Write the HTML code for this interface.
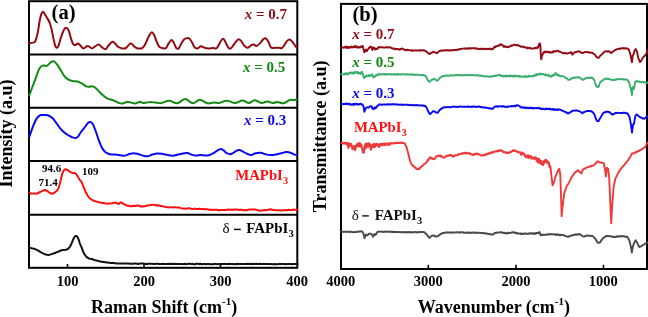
<!DOCTYPE html>
<html><head><meta charset="utf-8"><style>
html,body{margin:0;padding:0;background:#fff;width:648px;height:317px;overflow:hidden;font-family:"Liberation Serif", serif;}
svg{display:block;will-change:transform}
</style></head><body>
<svg width="648" height="317" viewBox="0 0 648 317"><g font-family='"Liberation Serif", serif'><g fill="none" stroke="#000" stroke-width="2"><rect x="29" y="1.2" width="268.3" height="266.6"/><line x1="29" y1="54.4" x2="297.3" y2="54.4"/><line x1="29" y1="107.7" x2="297.3" y2="107.7"/><line x1="29" y1="161" x2="297.3" y2="161"/><line x1="29" y1="214.8" x2="297.3" y2="214.8"/><rect x="341" y="3.9" width="306" height="265.1"/></g><g stroke="#000" stroke-width="1.6"><line x1="67.5" y1="264" x2="67.5" y2="267"/><line x1="144" y1="264" x2="144" y2="267"/><line x1="220.5" y1="264" x2="220.5" y2="267"/><line x1="428.3" y1="264.8" x2="428.3" y2="268"/><line x1="516" y1="264.8" x2="516" y2="268"/><line x1="603.5" y1="264.8" x2="603.5" y2="268"/></g><g fill="none" stroke-width="2.0" stroke-linejoin="round" stroke-linecap="round"><path d="M29.3,42.9 C29.3,42.9 28.9,42.9 29.5,42.9 C30.1,42.9 32.1,42.9 33.1,42.6 C34.1,42.3 34.6,42.7 35.4,41.0 C36.2,39.3 37.1,35.7 37.8,32.4 C38.5,29.1 39.0,24.3 39.6,21.3 C40.2,18.3 40.6,15.9 41.2,14.3 C41.8,12.7 42.5,11.7 43.1,11.7 C43.7,11.7 44.2,13.3 45.0,14.5 C45.8,15.7 46.8,17.3 47.6,18.7 C48.4,20.1 49.1,21.0 49.8,23.0 C50.5,25.0 51.3,28.0 51.9,30.7 C52.5,33.4 53.0,36.7 53.6,39.2 C54.2,41.8 54.7,44.6 55.3,46.0 C55.9,47.4 56.4,47.9 57.0,47.7 C57.6,47.6 58.1,46.7 58.7,45.1 C59.3,43.5 60.0,40.5 60.7,38.3 C61.4,36.1 62.2,33.7 62.9,32.0 C63.6,30.3 64.4,28.9 65.1,28.3 C65.8,27.7 66.2,27.6 66.8,28.1 C67.4,28.6 68.2,29.4 68.9,31.1 C69.6,32.8 70.2,36.1 70.9,38.3 C71.6,40.4 72.3,42.9 73.1,44.0 C73.8,45.1 74.6,45.2 75.4,45.1 C76.2,45.0 76.9,43.4 77.7,43.4 C78.5,43.4 79.0,44.3 80.0,45.1 C81.0,45.9 82.1,48.2 83.4,48.4 C84.7,48.5 86.3,46.0 87.7,46.0 C89.1,46.0 90.8,48.3 91.9,48.4 C93.0,48.5 93.4,47.4 94.5,46.8 C95.6,46.2 97.4,44.5 98.7,44.6 C100.0,44.7 100.9,46.6 102.1,47.4 C103.2,48.2 104.6,49.4 105.6,49.2 C106.6,49.0 107.0,47.2 108.1,46.0 C109.2,44.8 111.3,42.1 112.4,41.7 C113.5,41.3 113.9,42.5 114.9,43.4 C115.9,44.2 117.0,46.0 118.3,46.8 C119.6,47.6 121.3,48.2 122.6,48.4 C123.9,48.6 125.0,48.5 126.0,48.0 C127.0,47.5 127.8,45.9 128.6,45.1 C129.4,44.3 130.1,43.1 131.1,43.4 C132.1,43.7 133.4,46.0 134.6,46.8 C135.8,47.6 136.7,48.2 138.0,48.4 C139.3,48.6 141.1,48.8 142.2,48.2 C143.3,47.7 143.8,46.9 144.8,45.1 C145.8,43.3 147.1,39.6 148.2,37.5 C149.3,35.4 150.6,32.8 151.6,32.4 C152.6,32.0 153.2,33.3 154.1,34.9 C154.9,36.5 155.8,39.7 156.7,41.7 C157.6,43.7 158.3,45.7 159.3,46.8 C160.3,47.9 161.6,48.0 162.7,48.2 C163.8,48.4 165.1,48.8 166.1,48.0 C167.1,47.2 167.7,44.7 168.6,43.4 C169.5,42.1 170.7,40.1 171.5,40.0 C172.3,39.9 172.9,41.3 173.7,42.6 C174.5,43.9 175.5,47.1 176.3,48.0 C177.2,48.9 178.0,49.0 178.8,48.2 C179.7,47.4 180.5,44.9 181.4,43.4 C182.3,41.9 183.1,40.4 184.0,39.5 C184.9,38.6 185.8,38.5 186.6,38.3 C187.4,38.1 188.2,37.7 189.1,38.3 C189.9,38.9 190.8,40.3 191.7,41.7 C192.5,43.1 193.2,45.7 194.2,46.8 C195.2,47.9 196.5,48.5 197.6,48.4 C198.7,48.3 199.9,46.4 201.0,46.3 C202.1,46.2 203.1,47.4 204.4,47.7 C205.7,48.1 207.3,48.4 208.7,48.4 C210.1,48.4 211.7,48.0 213.0,48.0 C214.3,48.0 215.4,49.0 216.4,48.4 C217.4,47.8 218.1,46.0 218.9,44.6 C219.8,43.2 220.7,41.0 221.5,40.0 C222.3,39.0 222.8,38.4 223.5,38.8 C224.2,39.2 224.9,41.1 225.7,42.6 C226.5,44.1 227.5,46.7 228.3,47.7 C229.2,48.7 230.0,48.8 230.8,48.4 C231.7,48.0 232.5,46.2 233.4,45.1 C234.3,44.0 235.1,42.7 236.0,41.7 C236.9,40.7 237.8,39.3 238.6,39.2 C239.4,39.1 240.1,39.8 241.1,40.9 C242.1,42.0 243.4,44.9 244.5,46.0 C245.6,47.1 246.8,47.9 247.9,47.7 C249.0,47.6 250.3,45.6 251.3,45.1 C252.3,44.6 253.1,44.5 253.9,44.6 C254.8,44.8 255.4,46.2 256.4,46.0 C257.4,45.8 258.8,44.5 259.9,43.4 C261.0,42.3 262.3,40.1 263.3,39.2 C264.3,38.4 265.0,37.9 265.8,38.3 C266.6,38.7 267.5,40.2 268.4,41.7 C269.2,43.2 270.0,46.4 270.9,47.4 C271.8,48.4 272.2,48.0 273.5,48.0 C274.8,48.0 277.2,47.7 278.6,47.7 C280.0,47.7 281.0,48.5 282.0,48.0 C283.0,47.5 283.8,45.8 284.6,44.6 C285.5,43.4 286.2,41.8 287.1,40.9 C288.0,40.0 288.9,39.4 289.7,39.5 C290.5,39.6 291.3,40.8 292.2,41.7 C293.1,42.6 294.1,44.2 294.8,45.1 C295.5,46.0 296.2,46.9 296.5,47.4 C296.8,47.9 296.8,47.7 296.8,47.8" stroke="#920c14"/><path d="M29.3,94.4 C29.3,94.5 29.1,95.8 29.5,95.0 C29.9,94.2 30.6,91.6 31.4,89.6 C32.1,87.5 33.1,85.0 34.0,82.7 C34.9,80.4 35.6,78.2 36.5,75.9 C37.4,73.6 38.2,70.8 39.1,69.1 C40.0,67.4 40.8,66.6 41.6,66.0 C42.5,65.4 43.4,65.5 44.2,65.5 C45.1,65.5 45.9,66.2 46.7,65.9 C47.6,65.6 48.4,64.4 49.3,63.7 C50.2,63.0 51.0,61.9 51.9,61.5 C52.8,61.1 53.5,61.0 54.4,61.5 C55.2,62.0 56.1,63.2 57.0,64.3 C57.9,65.4 58.6,66.7 59.5,68.1 C60.4,69.5 61.2,71.1 62.1,72.5 C63.0,73.9 63.7,75.4 64.6,76.4 C65.4,77.5 66.3,78.2 67.2,78.8 C68.1,79.4 68.9,79.8 69.7,80.2 C70.5,80.6 71.5,80.8 72.3,81.0 C73.1,81.2 73.9,81.1 74.8,81.2 C75.7,81.3 76.5,81.3 77.4,81.5 C78.3,81.7 79.1,82.2 80.0,82.6 C80.9,83.0 81.6,83.2 82.6,83.8 C83.6,84.4 84.9,85.8 86.0,86.3 C87.1,86.8 88.3,86.7 89.4,86.7 C90.5,86.7 91.8,86.2 92.8,86.4 C93.8,86.6 94.3,86.9 95.3,87.7 C96.3,88.5 97.6,90.0 98.7,91.1 C99.8,92.2 100.9,93.5 102.1,94.5 C103.2,95.5 104.4,96.6 105.6,97.4 C106.8,98.2 107.9,98.7 109.0,99.1 C110.1,99.5 111.3,99.6 112.4,100.0 C113.5,100.4 114.7,100.9 115.8,101.4 C116.9,101.9 118.1,102.8 119.2,103.1 C120.3,103.4 121.6,103.5 122.6,103.4 C123.6,103.3 124.2,102.9 125.1,102.6 C125.9,102.3 126.7,101.7 127.7,101.7 C128.7,101.7 129.8,102.3 131.1,102.6 C132.4,102.9 134.0,103.6 135.4,103.4 C136.8,103.2 138.4,101.8 139.7,101.7 C141.0,101.7 142.0,102.9 143.1,103.1 C144.2,103.2 145.2,102.8 146.5,102.6 C147.8,102.4 149.3,102.0 150.7,102.0 C152.1,102.0 153.6,102.4 155.0,102.6 C156.4,102.8 158.1,103.0 159.3,103.1 C160.5,103.1 160.3,103.3 162.0,102.9 C163.7,102.5 167.1,100.7 169.6,100.8 C172.1,100.9 174.5,103.6 177.1,103.3 C179.7,103.0 182.6,99.0 185.2,99.0 C187.8,99.0 190.4,103.2 192.8,103.3 C195.2,103.4 197.4,99.8 199.8,99.8 C202.2,99.8 205.1,102.8 207.4,103.3 C209.7,103.8 211.8,102.6 213.8,102.5 C215.8,102.4 217.2,103.2 219.2,102.9 C221.2,102.6 223.9,101.0 225.7,100.8 C227.5,100.5 228.4,101.0 230.0,101.4 C231.6,101.8 233.1,103.1 235.2,103.0 C237.3,102.9 240.3,100.6 242.6,100.6 C244.9,100.6 246.9,103.0 248.9,103.0 C250.9,103.0 252.6,100.3 254.7,100.3 C256.8,100.3 259.4,102.8 261.5,103.0 C263.6,103.2 265.4,101.6 267.3,101.6 C269.2,101.6 271.4,103.0 273.0,103.0 C274.6,103.0 275.4,101.9 277.2,101.9 C278.9,102.0 281.4,103.6 283.5,103.3 C285.6,103.0 288.1,100.4 289.8,99.9 C291.6,99.4 292.9,100.2 294.0,100.1 C295.1,100.0 296.0,99.6 296.5,99.5 C297.0,99.4 296.8,99.4 296.8,99.4" stroke="#138a13"/><path d="M29.3,135.7 C29.3,135.8 29.1,137.1 29.5,136.3 C29.9,135.5 30.6,133.0 31.4,130.9 C32.1,128.8 33.1,126.0 34.0,124.0 C34.9,122.0 35.6,120.2 36.5,118.9 C37.4,117.6 38.2,116.6 39.1,115.9 C40.0,115.2 40.6,115.2 41.6,115.0 C42.6,114.8 43.9,114.9 45.0,115.0 C46.1,115.1 47.2,115.1 48.4,115.5 C49.5,115.9 50.9,116.8 51.9,117.6 C52.9,118.4 53.5,119.2 54.4,120.3 C55.2,121.4 56.1,122.8 57.0,124.0 C57.9,125.2 58.6,126.3 59.5,127.4 C60.4,128.5 61.1,129.5 62.1,130.5 C63.1,131.5 64.4,132.6 65.5,133.4 C66.6,134.2 67.8,134.9 68.9,135.6 C70.0,136.2 71.2,136.9 72.3,137.3 C73.4,137.7 74.7,138.2 75.7,138.0 C76.7,137.8 77.5,137.2 78.3,136.3 C79.1,135.4 79.7,133.9 80.8,132.3 C81.9,130.7 83.9,128.4 85.1,126.9 C86.2,125.4 86.8,124.0 87.7,123.2 C88.6,122.4 89.4,121.9 90.2,122.0 C91.0,122.1 92.0,122.7 92.8,124.0 C93.6,125.3 94.4,127.7 95.3,130.0 C96.2,132.3 97.1,135.3 97.9,137.7 C98.8,140.1 99.6,142.4 100.4,144.3 C101.2,146.2 102.1,148.1 103.0,149.4 C103.9,150.7 104.6,151.5 105.6,152.3 C106.6,153.1 107.9,153.6 109.0,154.0 C110.1,154.4 111.3,154.4 112.4,154.5 C113.5,154.6 114.7,154.4 115.8,154.5 C116.9,154.6 118.1,154.9 119.2,155.1 C120.3,155.3 121.5,155.6 122.6,155.7 C123.7,155.8 124.9,155.7 126.0,155.4 C127.1,155.1 128.4,154.3 129.4,154.0 C130.4,153.7 130.7,153.5 132.0,153.4 C133.3,153.3 135.4,153.4 137.1,153.7 C138.8,154.0 140.5,155.0 142.2,155.4 C143.9,155.8 145.6,156.5 147.3,156.3 C149.0,156.2 150.7,155.0 152.4,154.5 C154.1,154.0 155.9,153.5 157.6,153.4 C159.3,153.3 161.0,153.7 162.7,154.0 C164.4,154.3 166.1,154.8 167.8,155.1 C169.5,155.4 171.2,155.8 172.9,155.7 C174.6,155.6 176.3,154.9 178.0,154.5 C179.7,154.1 181.5,153.7 183.1,153.4 C184.7,153.2 186.0,152.8 187.4,153.0 C188.8,153.2 190.3,154.3 191.7,154.7 C193.1,155.1 194.3,155.5 195.9,155.6 C197.5,155.7 199.4,155.0 201.0,155.0 C202.6,155.0 203.9,155.6 205.3,155.6 C206.7,155.6 208.2,155.4 209.6,155.0 C211.0,154.6 212.2,153.9 213.5,153.2 C214.8,152.5 216.0,151.3 217.2,150.6 C218.4,149.9 219.6,149.0 220.6,148.9 C221.6,148.8 222.2,149.3 223.2,150.0 C224.2,150.7 225.3,152.3 226.5,153.0 C227.7,153.7 229.0,154.3 230.2,154.3 C231.3,154.3 232.4,153.4 233.4,152.8 C234.4,152.2 235.4,151.4 236.4,150.9 C237.4,150.4 238.5,150.2 239.3,150.1 C240.1,150.0 240.3,150.2 241.0,150.5 C241.7,150.8 242.6,151.4 243.6,152.0 C244.6,152.6 245.8,153.3 247.1,153.8 C248.4,154.3 249.9,155.1 251.3,155.0 C252.7,154.9 254.0,153.7 255.6,153.3 C257.2,152.9 259.0,152.5 260.7,152.7 C262.4,152.9 264.1,154.0 265.8,154.4 C267.5,154.8 269.2,155.0 270.9,155.0 C272.6,155.0 274.3,154.7 276.0,154.4 C277.7,154.1 279.4,153.7 281.1,153.3 C282.8,152.9 284.7,152.2 286.3,152.1 C287.9,152.0 289.2,152.3 290.5,152.7 C291.8,153.1 292.9,154.0 293.9,154.4 C294.9,154.8 296.0,154.9 296.5,155.0 C297.0,155.1 296.8,155.1 296.8,155.1" stroke="#0a0aee"/><path d="M29.3,192.6 L29.3,192.5 L29.5,192.5 L30.3,193.1 L31.4,193.7 L32.7,193.6 L34.0,193.4 L35.2,193.6 L36.5,193.7 L37.8,193.2 L39.1,192.5 L40.3,191.9 L41.6,191.3 L43.3,190.5 L45.0,190.0 L46.4,190.5 L47.6,191.3 L48.9,192.2 L50.1,193.0 L51.4,193.6 L52.7,193.7 L54.0,193.0 L55.3,192.0 L56.6,191.0 L57.8,189.6 L58.4,188.3 L59.0,186.7 L59.5,184.9 L59.8,183.6 L60.2,182.3 L60.5,180.8 L60.9,179.4 L61.2,178.0 L61.6,176.4 L62.0,174.8 L62.4,173.3 L62.9,172.1 L64.0,170.2 L65.1,169.2 L66.1,169.3 L67.2,169.9 L68.4,170.7 L69.7,171.6 L71.0,172.4 L72.3,172.9 L73.3,172.9 L74.3,172.9 L75.4,173.5 L76.6,174.6 L77.4,175.9 L78.3,177.4 L79.1,178.9 L80.0,180.1 L80.9,181.1 L81.7,182.3 L82.3,183.6 L82.8,185.0 L83.4,186.6 L84.0,188.0 L84.7,189.6 L85.3,191.1 L86.0,192.5 L86.8,194.1 L87.7,195.6 L88.5,196.8 L89.7,198.2 L91.1,199.3 L92.7,200.2 L94.5,201.0 L95.8,201.4 L97.2,201.8 L98.7,202.0 L99.9,202.6 L101.2,202.8 L102.6,203.0 L103.9,203.0 L105.6,203.6 L107.4,203.7 L109.0,203.6 L110.5,203.5 L112.0,203.2 L113.2,202.9 L114.6,202.8 L115.8,202.8 L117.0,203.1 L118.3,204.1 L119.6,203.2 L120.9,202.5 L122.1,202.7 L123.4,203.9 L124.6,204.4 L126.0,205.2 L127.7,205.7 L129.4,205.8 L130.6,206.2 L132.0,206.3 L133.5,205.8 L135.3,206.0 L137.1,205.5 L138.8,205.6 L140.5,206.5 L142.2,206.3 L143.9,206.6 L145.6,205.9 L147.3,205.6 L149.0,205.3 L150.7,205.1 L152.4,204.8 L153.7,204.7 L155.0,205.3 L156.3,205.0 L157.6,205.5 L159.3,205.3 L161.0,206.1 L162.7,206.3 L164.0,206.6 L165.2,206.9 L166.5,207.1 L167.8,207.4 L169.5,207.2 L171.2,207.3 L172.9,207.5 L174.6,207.1 L176.4,207.5 L178.0,207.5 L179.5,207.6 L180.9,208.1 L182.3,208.5 L184.0,208.4 L186.0,208.7 L187.1,208.4 L188.3,208.2 L189.6,208.3 L191.0,208.8 L192.5,209.0 L193.8,208.7 L195.2,208.8 L196.6,208.9 L198.1,209.0 L199.6,208.8 L201.0,209.1 L202.4,209.1 L203.9,209.3 L205.3,209.1 L206.7,209.2 L208.2,209.4 L209.6,209.9 L211.0,209.6 L212.4,209.9 L213.9,209.8 L215.3,209.8 L216.7,209.8 L218.1,210.3 L219.5,210.2 L220.9,209.9 L222.3,210.0 L223.7,209.9 L225.1,209.9 L226.6,209.9 L227.9,209.5 L229.2,209.8 L230.6,209.8 L232.0,209.6 L233.4,209.8 L234.7,209.6 L236.0,209.5 L237.5,209.5 L238.9,210.0 L240.3,209.7 L241.7,209.7 L243.1,210.3 L244.5,210.3 L245.9,210.0 L247.3,210.2 L248.7,209.6 L250.2,209.6 L251.6,209.5 L253.0,209.6 L254.4,209.5 L255.9,209.6 L257.3,210.0 L258.7,210.5 L260.2,210.7 L261.6,210.6 L263.0,210.4 L264.4,210.1 L265.9,210.3 L267.3,209.9 L268.7,209.8 L270.1,209.3 L271.5,209.5 L272.9,210.0 L274.4,210.1 L275.8,210.3 L277.2,210.3 L278.6,210.3 L280.0,210.4 L281.4,210.5 L282.8,210.2 L284.2,210.2 L285.6,210.0 L287.1,210.3 L288.5,209.7 L290.0,210.1 L291.5,210.2 L293.1,209.5 L294.5,209.8 L295.6,209.7 L296.5,209.8 L297.2,209.6 L296.8,209.6" stroke="#ff1010"/><path d="M29.3,247.8 L29.2,247.7 L29.5,247.7 L30.7,248.0 L32.3,248.4 L34.0,248.8 L35.7,249.4 L36.8,249.9 L38.0,250.5 L39.1,251.1 L40.2,251.8 L41.4,252.5 L42.5,253.2 L43.7,253.7 L44.8,254.2 L45.9,254.5 L47.1,254.8 L48.4,254.9 L49.5,254.7 L50.7,254.4 L51.9,254.0 L53.0,253.6 L54.2,253.2 L55.3,252.8 L56.4,252.4 L57.6,251.9 L58.7,251.5 L59.8,251.0 L61.0,250.5 L62.1,250.1 L63.9,249.9 L65.5,249.8 L66.8,249.5 L68.0,248.9 L68.9,248.0 L69.8,246.8 L70.6,245.5 L71.1,244.4 L71.6,243.3 L72.1,242.1 L72.6,240.9 L73.1,239.7 L73.7,238.4 L74.3,237.3 L74.8,236.5 L75.7,235.9 L76.6,236.1 L77.5,237.1 L78.3,238.7 L78.7,239.8 L79.2,241.2 L79.6,242.6 L80.0,243.8 L80.6,245.1 L81.1,246.3 L81.7,247.6 L82.1,248.7 L82.5,249.9 L82.9,251.2 L83.4,252.3 L84.2,253.7 L85.1,255.1 L86.0,256.2 L87.2,257.5 L88.5,258.2 L90.0,258.8 L91.9,258.9 L93.0,259.5 L94.2,259.9 L95.6,260.4 L97.0,260.6 L98.3,261.0 L99.6,261.4 L101.1,261.6 L102.5,261.9 L103.9,262.0 L105.2,262.2 L106.5,262.6 L107.9,262.6 L109.2,262.8 L110.7,263.0 L111.8,262.9 L113.0,262.8 L114.2,263.3 L115.5,263.3 L116.7,263.4 L118.0,263.4 L119.2,263.6 L120.4,263.4 L121.5,263.6 L122.6,263.4 L123.8,263.6 L125.0,263.6 L126.3,263.5 L127.7,263.4 L128.7,263.6 L129.8,263.8 L130.9,263.7 L132.0,263.7 L133.1,263.8 L134.3,263.6 L135.6,263.6 L137.0,263.7 L138.4,263.9 L140.0,263.6 L141.0,263.6 L142.1,263.6 L143.3,263.6 L144.5,263.7 L145.7,263.9 L146.9,264.0 L148.2,263.8 L149.5,263.8 L150.8,263.8 L152.2,263.8 L153.5,264.0 L154.8,263.9 L156.1,263.8 L157.4,263.7 L158.7,264.0 L160.0,264.0 L161.2,264.1 L162.5,263.8 L163.8,263.9 L165.0,264.1 L166.2,264.0 L167.5,264.1 L168.8,263.7 L170.0,264.1 L171.2,263.7 L172.5,263.9 L173.8,263.7 L175.0,264.1 L176.2,264.0 L177.5,264.1 L178.8,264.0 L180.0,264.1 L181.2,263.9 L182.5,264.2 L183.8,264.0 L185.0,263.8 L186.2,264.2 L187.5,263.9 L188.8,263.8 L190.0,263.7 L191.2,263.9 L192.5,263.8 L193.8,264.2 L195.0,264.2 L196.2,263.8 L197.5,263.8 L198.8,264.0 L200.0,263.8 L201.2,264.0 L202.5,264.2 L203.8,263.9 L205.0,264.0 L206.2,264.2 L207.5,264.0 L208.8,263.9 L210.0,264.2 L211.2,264.2 L212.5,264.2 L213.8,264.1 L215.0,264.0 L216.2,264.1 L217.5,264.2 L218.8,264.1 L220.0,263.9 L221.2,263.9 L222.5,264.0 L223.8,264.1 L225.0,264.0 L226.2,264.0 L227.5,264.2 L228.8,263.8 L230.0,264.1 L231.2,263.9 L232.5,264.0 L233.8,264.2 L235.0,263.9 L236.2,264.2 L237.5,263.8 L238.8,264.0 L240.0,264.0 L241.2,263.9 L242.5,264.0 L243.8,264.0 L245.0,264.0 L246.2,264.1 L247.5,263.7 L248.8,263.9 L250.0,264.1 L251.2,263.8 L252.5,264.2 L253.8,263.8 L255.0,264.1 L256.2,263.8 L257.5,264.0 L258.8,264.0 L260.0,263.8 L261.3,264.1 L262.5,264.0 L263.8,264.1 L265.1,264.0 L266.4,264.1 L267.7,264.0 L268.9,263.9 L270.2,264.2 L271.5,263.9 L272.8,264.3 L274.0,264.3 L275.2,264.1 L276.5,264.2 L277.7,264.2 L278.8,264.1 L280.0,264.0 L281.4,264.0 L282.9,264.0 L284.4,264.0 L285.9,264.3 L287.3,264.0 L288.8,264.1 L290.2,264.1 L291.5,264.3 L292.7,264.1 L293.9,264.1 L294.9,264.0 L295.8,264.0 L296.5,263.9 L297.7,264.0 L296.8,264.1" stroke="#111111"/></g><g fill="none" stroke-width="1.9" stroke-linejoin="round" stroke-linecap="round"><path d="M341.2,47.8 L342.0,47.7 L342.5,47.5 L343.1,47.7 L343.6,47.5 L344.2,47.6 L344.7,47.6 L345.2,46.7 L345.8,46.5 L346.3,48.0 L346.9,46.9 L347.4,47.3 L347.9,46.8 L348.4,48.1 L348.9,47.1 L349.4,47.8 L349.9,47.1 L350.4,47.3 L350.9,46.4 L351.4,47.2 L351.9,47.6 L352.4,47.0 L352.9,47.3 L353.4,47.1 L353.9,46.8 L354.4,46.0 L354.9,47.3 L355.4,47.0 L355.9,46.5 L356.5,46.1 L357.0,47.6 L357.5,46.9 L358.0,47.4 L358.5,47.0 L359.1,47.6 L359.6,47.2 L360.1,47.5 L360.7,46.5 L361.2,47.1 L361.8,46.5 L362.7,45.9 L363.3,48.2 L363.8,50.2 L364.3,52.4 L365.2,51.0 L365.9,49.6 L366.4,51.1 L366.9,51.0 L367.8,49.1 L368.5,49.1 L369.2,47.7 L369.9,46.8 L370.6,47.3 L371.5,46.8 L372.4,50.0 L373.3,48.6 L373.8,47.5 L374.3,47.7 L375.2,49.6 L375.9,48.8 L376.6,49.1 L377.3,49.1 L378.0,47.4 L378.5,47.3 L379.1,47.6 L379.6,47.0 L380.1,47.3 L380.6,47.2 L381.2,47.2 L381.7,47.3 L382.2,47.4 L382.7,47.4 L383.2,47.6 L383.7,47.4 L384.3,47.6 L384.8,47.5 L385.3,47.6 L385.8,47.4 L386.3,47.3 L386.8,47.0 L387.4,47.5 L387.9,47.5 L388.4,47.5 L388.9,47.2 L389.5,47.3 L390.0,47.1 L390.6,47.3 L391.3,48.1 L391.9,48.2 L392.5,48.5 L393.1,48.5 L393.7,48.9 L394.2,48.6 L394.8,49.2 L395.3,49.3 L395.8,48.7 L396.3,49.3 L396.9,49.0 L397.4,49.1 L397.9,48.9 L398.4,49.1 L399.0,49.5 L399.5,49.7 L400.0,49.5 L400.5,49.0 L401.0,49.2 L401.5,48.6 L402.0,48.9 L402.5,48.6 L403.1,48.8 L403.7,49.5 L404.3,49.8 L404.9,49.8 L405.4,49.9 L405.9,50.3 L406.4,49.8 L406.9,49.7 L407.4,50.2 L407.9,49.8 L408.4,50.0 L408.9,50.2 L409.4,50.4 L409.9,50.4 L410.4,50.2 L410.9,50.1 L411.4,50.7 L411.9,50.3 L412.4,50.7 L412.9,50.7 L413.4,50.3 L413.9,50.4 L414.5,50.4 L415.0,50.5 L415.5,50.5 L416.0,50.4 L416.5,50.5 L417.0,50.7 L417.5,50.4 L418.0,50.4 L418.5,50.4 L419.0,50.6 L419.5,50.2 L420.1,50.3 L420.6,50.7 L421.1,50.4 L421.6,50.4 L422.1,50.1 L422.6,50.3 L423.1,50.5 L423.7,50.1 L424.2,50.5 L424.7,50.4 L425.2,50.9 L425.7,50.9 L426.2,51.6 L426.7,51.9 L427.2,52.3 L427.8,52.9 L428.3,53.1 L428.8,53.8 L429.4,54.1 L429.9,54.0 L430.4,53.2 L431.0,52.9 L431.5,52.9 L432.1,52.6 L432.7,52.4 L433.3,51.7 L433.9,51.8 L434.6,52.2 L435.2,52.5 L435.8,52.8 L436.4,52.9 L437.0,53.3 L437.5,52.7 L438.0,52.2 L438.5,51.8 L439.0,51.5 L439.5,51.0 L440.0,50.8 L440.6,50.7 L441.1,50.9 L441.6,50.3 L442.1,50.6 L442.7,50.7 L443.2,50.4 L443.7,50.3 L444.2,50.2 L444.8,50.6 L445.3,50.2 L445.8,50.2 L446.3,50.4 L446.8,50.5 L447.3,50.1 L447.8,50.3 L448.4,50.3 L448.9,50.6 L449.4,50.4 L449.9,50.3 L450.4,50.6 L450.9,50.1 L451.5,50.2 L452.0,50.4 L452.5,50.5 L453.0,50.2 L453.5,50.0 L454.1,49.9 L454.6,50.2 L455.1,49.9 L455.6,50.1 L456.1,50.2 L456.6,50.1 L457.1,49.6 L457.6,49.5 L458.1,49.8 L458.6,49.5 L459.2,49.6 L459.7,49.1 L460.2,48.9 L460.7,48.9 L461.2,49.1 L461.7,48.8 L462.2,48.6 L462.7,48.6 L463.2,48.6 L463.8,48.6 L464.3,48.5 L464.8,48.8 L465.3,48.3 L465.8,48.1 L466.3,48.7 L466.9,48.6 L467.4,48.7 L467.9,48.3 L468.4,48.3 L468.9,48.6 L469.4,48.6 L470.0,48.1 L470.5,48.5 L471.0,48.5 L471.5,48.4 L472.0,48.3 L472.6,48.2 L473.1,48.2 L473.6,48.1 L474.1,48.3 L474.6,48.1 L475.2,48.5 L475.7,48.3 L476.2,48.7 L476.8,48.3 L477.3,48.9 L477.9,48.8 L478.4,49.0 L478.9,49.1 L479.5,49.1 L480.0,48.9 L480.5,49.0 L481.1,48.6 L481.6,49.1 L482.1,48.7 L482.6,48.8 L483.1,49.0 L483.7,48.9 L484.2,48.8 L484.7,49.2 L485.2,49.0 L485.8,48.8 L486.3,48.9 L486.8,48.7 L487.4,49.2 L487.9,48.9 L488.4,49.1 L488.9,48.8 L489.5,48.7 L490.0,48.9 L490.5,49.3 L491.0,48.5 L491.6,49.3 L492.1,49.4 L492.6,48.9 L493.1,48.8 L493.6,48.4 L494.1,47.0 L494.6,47.3 L495.1,46.7 L495.6,47.0 L496.2,45.9 L496.7,46.0 L497.2,45.8 L497.8,46.0 L498.3,45.8 L498.8,45.4 L499.3,45.2 L499.8,45.4 L500.3,44.2 L500.8,44.5 L501.3,44.3 L501.8,44.7 L502.3,45.1 L502.8,45.3 L503.3,46.2 L503.8,46.9 L504.4,46.9 L504.9,46.1 L505.4,46.7 L506.0,46.6 L506.5,47.0 L507.0,46.8 L507.5,46.8 L508.0,47.2 L508.5,47.1 L509.0,47.0 L509.5,46.6 L510.1,46.1 L510.6,46.0 L511.1,45.5 L511.7,45.7 L512.2,45.4 L512.7,45.6 L513.2,45.1 L513.8,44.6 L514.3,44.7 L514.8,44.8 L515.3,44.9 L515.8,45.1 L516.3,45.3 L516.9,44.9 L517.4,45.4 L517.9,45.1 L518.4,45.5 L518.9,45.5 L519.4,45.7 L519.9,46.1 L520.4,46.4 L520.9,46.7 L521.4,46.5 L521.9,46.9 L522.4,46.8 L522.9,46.6 L523.4,47.0 L523.9,47.3 L524.4,46.7 L524.9,47.2 L525.4,47.4 L525.9,47.4 L526.4,48.0 L526.9,48.2 L527.4,47.6 L528.0,48.3 L528.5,48.2 L529.0,47.7 L529.5,48.0 L530.0,47.7 L530.5,48.2 L531.0,48.6 L531.5,48.4 L532.0,48.7 L532.5,48.6 L533.0,48.5 L533.5,48.5 L534.0,48.3 L534.5,47.8 L535.0,48.4 L535.5,48.3 L536.0,47.6 L536.5,47.6 L537.0,48.2 L537.5,47.2 L538.0,47.6 L538.6,45.7 L539.1,44.3 L539.7,43.3 L540.3,44.3 L540.8,55.2 L541.2,59.3 L542.1,55.2 L542.6,54.8 L543.2,53.0 L543.7,52.5 L544.2,51.8 L544.8,52.6 L545.3,51.5 L545.8,52.2 L546.4,51.9 L546.9,51.5 L547.4,52.0 L548.0,52.3 L548.5,52.0 L549.1,52.4 L549.6,51.7 L550.2,52.7 L550.7,52.5 L551.2,52.4 L551.8,52.5 L552.3,51.6 L552.8,52.2 L553.3,52.3 L553.9,51.1 L554.4,51.5 L554.9,51.2 L555.5,51.4 L556.0,51.6 L556.6,50.8 L557.1,50.7 L557.7,50.7 L558.2,50.9 L558.8,51.3 L559.3,51.8 L559.9,51.6 L560.4,51.9 L561.0,52.2 L561.5,52.4 L562.1,52.8 L562.6,53.1 L563.1,52.8 L563.7,53.2 L564.2,53.5 L564.8,53.2 L565.3,53.4 L565.8,53.0 L566.4,53.4 L566.9,53.5 L567.5,53.5 L568.0,53.4 L568.5,53.2 L569.1,53.0 L569.6,52.9 L570.1,52.8 L570.7,52.1 L571.2,52.1 L571.8,53.1 L572.3,54.7 L572.8,54.3 L573.3,53.8 L573.9,53.0 L574.4,52.4 L574.9,52.2 L575.5,52.3 L576.0,51.8 L576.6,51.7 L577.1,51.6 L577.7,51.7 L578.2,51.4 L578.8,51.2 L579.3,51.3 L579.8,51.8 L580.4,52.3 L580.9,52.2 L581.5,52.8 L582.0,53.0 L582.5,52.8 L583.1,53.0 L583.6,52.7 L584.1,52.4 L584.7,52.2 L585.2,52.0 L585.8,52.2 L586.3,52.1 L586.8,52.1 L587.3,52.0 L587.8,52.2 L588.3,52.2 L588.8,52.5 L589.3,52.2 L589.8,52.8 L590.3,52.5 L590.8,52.6 L591.3,52.6 L591.8,52.9 L592.3,52.7 L592.8,53.3 L593.4,53.5 L593.9,53.8 L594.5,54.4 L595.0,54.6 L595.5,55.7 L596.1,56.2 L596.6,57.1 L597.1,57.4 L597.7,57.8 L598.2,57.6 L598.8,57.8 L599.3,56.9 L599.9,56.2 L600.4,55.7 L600.9,55.3 L601.5,54.7 L602.0,54.4 L602.6,53.8 L603.1,53.0 L603.6,52.5 L604.2,52.1 L604.7,51.8 L605.3,51.4 L605.8,51.3 L606.3,51.4 L606.9,51.6 L607.4,51.6 L607.9,51.1 L608.5,51.6 L609.0,51.3 L609.5,51.6 L610.1,52.1 L610.7,52.8 L611.2,53.1 L611.7,52.4 L612.3,51.9 L612.8,52.0 L613.4,51.1 L613.9,50.8 L614.4,50.4 L615.0,50.3 L615.5,50.1 L616.1,49.4 L616.6,49.3 L617.2,49.1 L617.7,48.9 L618.2,48.8 L618.8,48.6 L619.3,48.8 L619.9,49.0 L620.4,48.5 L620.9,48.6 L621.5,48.2 L622.0,48.4 L622.5,48.2 L623.0,48.5 L623.5,48.1 L624.0,48.6 L624.5,48.6 L625.0,48.1 L625.5,48.6 L626.0,48.2 L626.5,48.5 L627.0,48.3 L627.6,48.9 L628.3,49.0 L628.9,49.5 L629.6,52.0 L630.3,54.2 L630.9,57.0 L631.4,59.7 L632.0,62.2 L632.7,55.6 L633.6,54.2 L634.1,52.1 L634.6,50.4 L635.2,49.9 L635.8,49.0 L636.3,50.5 L636.9,51.4 L637.6,54.8 L638.3,58.0 L638.9,59.4 L639.4,60.5 L640.0,62.2 L640.5,61.6 L641.0,60.8 L641.5,60.3 L642.1,59.1 L642.8,57.5 L643.4,57.2 L643.9,56.6 L644.5,56.1 L645.1,55.2 L645.6,54.8 L646.2,54.0 L646.9,52.1 L647.6,50.0" stroke="#920c14"/><path d="M341.2,74.2 L342.0,74.1 L342.5,74.1 L343.1,74.2 L343.6,74.2 L344.1,74.2 L344.6,74.0 L345.1,74.6 L345.7,72.9 L346.2,73.7 L346.7,73.6 L347.2,74.4 L347.7,73.8 L348.2,74.2 L348.7,72.8 L349.2,73.3 L349.8,72.9 L350.3,73.4 L350.8,73.4 L351.3,72.3 L351.8,72.6 L352.3,73.1 L352.8,72.6 L353.4,73.7 L353.9,73.3 L354.4,72.1 L354.9,73.2 L355.5,71.9 L356.0,72.5 L356.5,72.8 L357.1,72.1 L357.6,72.0 L358.2,73.7 L358.7,72.6 L359.3,72.8 L359.8,73.4 L360.4,73.9 L360.9,73.3 L361.4,71.9 L362.0,71.9 L362.8,73.7 L363.5,76.7 L364.1,78.0 L364.7,77.4 L365.3,76.6 L365.9,76.4 L366.5,75.6 L367.1,75.4 L367.8,76.2 L368.4,76.4 L369.0,75.0 L369.5,75.4 L370.1,76.0 L370.6,75.3 L371.2,75.5 L371.9,74.3 L372.6,75.5 L373.3,77.4 L373.9,76.9 L374.6,76.3 L375.2,76.6 L375.8,75.5 L376.4,75.0 L377.0,75.3 L377.5,74.7 L378.0,75.1 L378.5,73.8 L379.0,74.8 L379.5,74.3 L380.0,74.2 L380.5,74.2 L381.1,74.5 L381.6,74.3 L382.1,74.2 L382.6,74.3 L383.1,74.4 L383.7,74.0 L384.2,74.6 L384.7,74.0 L385.2,74.5 L385.8,74.5 L386.3,74.0 L386.8,74.5 L387.3,74.2 L387.8,74.4 L388.4,74.0 L388.9,74.0 L389.4,74.3 L389.9,74.1 L390.4,74.6 L390.9,74.1 L391.4,74.5 L392.0,74.6 L392.5,74.6 L393.0,74.2 L393.5,74.2 L394.0,74.3 L394.5,74.5 L395.0,74.0 L395.5,74.5 L396.1,74.5 L396.6,74.6 L397.1,74.0 L397.6,74.6 L398.1,74.0 L398.6,74.2 L399.1,74.4 L399.6,74.6 L400.2,74.2 L400.7,74.6 L401.2,74.3 L401.7,74.3 L402.2,74.2 L402.7,74.2 L403.2,74.1 L403.8,74.1 L404.3,74.1 L404.8,74.5 L405.3,74.7 L405.8,74.2 L406.4,74.1 L406.9,74.8 L407.4,74.5 L407.9,74.4 L408.4,74.3 L408.9,74.5 L409.4,74.7 L410.0,74.5 L410.5,74.5 L411.0,74.2 L411.5,74.8 L412.0,74.2 L412.6,74.6 L413.1,74.8 L413.6,74.3 L414.1,74.6 L414.6,74.8 L415.2,75.0 L415.7,74.8 L416.2,74.9 L416.8,74.5 L417.3,74.8 L417.9,74.6 L418.4,75.1 L418.9,74.8 L419.5,74.9 L420.0,75.0 L420.5,75.3 L421.1,75.2 L421.6,75.3 L422.1,75.0 L422.6,75.0 L423.2,75.2 L423.7,75.0 L424.2,75.3 L424.7,75.6 L425.2,76.0 L425.7,76.2 L426.2,76.8 L426.7,77.7 L427.2,79.2 L427.7,79.9 L428.2,80.9 L428.8,81.4 L429.3,82.0 L429.9,81.5 L430.5,80.8 L431.1,80.1 L431.7,79.9 L432.2,79.4 L432.8,79.5 L433.3,79.3 L433.8,78.7 L434.3,78.9 L434.9,79.4 L435.4,79.5 L436.0,80.1 L436.7,80.5 L437.3,80.8 L437.8,80.4 L438.3,79.9 L438.8,79.0 L439.3,78.7 L439.8,78.0 L440.4,77.4 L441.0,77.1 L441.6,76.8 L442.2,76.2 L442.7,76.3 L443.2,75.9 L443.7,76.3 L444.2,76.1 L444.7,76.0 L445.2,75.5 L445.7,75.8 L446.2,75.5 L446.7,75.8 L447.2,75.6 L447.7,75.5 L448.2,75.8 L448.7,75.6 L449.3,75.7 L449.8,75.3 L450.3,75.5 L450.8,75.5 L451.3,75.6 L451.8,75.2 L452.4,75.5 L452.9,75.5 L453.4,75.4 L453.9,75.5 L454.4,75.5 L454.9,75.1 L455.5,75.1 L456.0,74.8 L456.5,75.3 L457.0,75.0 L457.5,75.3 L458.0,75.0 L458.6,75.2 L459.1,75.2 L459.6,75.2 L460.1,74.8 L460.6,75.3 L461.1,75.2 L461.6,75.2 L462.2,75.1 L462.7,75.2 L463.2,75.3 L463.7,75.3 L464.2,75.3 L464.8,74.9 L465.3,75.0 L465.8,75.2 L466.3,75.3 L466.8,75.0 L467.3,75.4 L467.8,75.4 L468.4,75.0 L468.9,75.3 L469.4,75.3 L469.9,75.1 L470.5,75.0 L471.0,75.0 L471.5,75.2 L472.0,75.1 L472.6,75.1 L473.1,75.0 L473.6,75.3 L474.2,75.2 L474.7,75.4 L475.2,75.4 L475.7,75.1 L476.3,75.6 L476.8,75.3 L477.3,75.0 L477.9,75.4 L478.4,75.3 L478.9,75.5 L479.4,75.4 L480.0,75.9 L480.5,75.7 L481.0,75.5 L481.6,76.0 L482.1,75.7 L482.6,76.0 L483.1,76.0 L483.7,76.2 L484.2,76.2 L484.7,76.6 L485.3,76.5 L485.8,76.3 L486.3,76.6 L486.8,76.5 L487.4,76.3 L487.9,76.2 L488.4,76.6 L488.9,76.6 L489.5,76.9 L490.0,76.6 L490.5,76.9 L491.1,76.5 L491.6,76.3 L492.1,76.6 L492.7,75.9 L493.2,75.9 L493.8,76.1 L494.3,76.0 L494.8,76.0 L495.4,75.5 L495.9,75.8 L496.5,75.8 L497.0,75.4 L497.5,75.3 L498.1,75.0 L498.6,75.0 L499.2,75.3 L499.7,74.9 L500.2,74.9 L500.8,76.0 L501.4,76.1 L501.9,75.8 L502.4,75.5 L503.0,76.0 L503.5,76.7 L504.0,76.0 L504.5,75.9 L505.0,75.7 L505.5,76.7 L506.0,76.0 L506.5,75.7 L507.0,76.0 L507.6,75.4 L508.1,76.2 L508.6,75.9 L509.1,75.7 L509.6,76.4 L510.1,76.5 L510.6,75.3 L511.1,76.0 L511.6,76.0 L512.1,75.7 L512.6,76.7 L513.1,76.4 L513.6,75.6 L514.1,75.7 L514.6,75.5 L515.1,76.7 L515.6,75.7 L516.1,76.2 L516.6,76.0 L517.1,76.2 L517.6,76.2 L518.1,76.0 L518.6,76.5 L519.2,75.7 L519.7,76.8 L520.2,76.2 L520.8,76.7 L521.3,76.8 L521.8,76.5 L522.3,76.4 L522.8,76.8 L523.3,76.6 L523.8,76.4 L524.3,77.0 L524.8,76.7 L525.3,75.9 L525.8,76.2 L526.3,76.4 L526.8,77.1 L527.3,77.0 L527.8,76.4 L528.3,76.4 L528.9,75.6 L529.4,76.7 L530.0,76.1 L530.5,76.3 L531.0,76.4 L531.6,76.2 L532.1,76.0 L532.7,76.6 L533.2,75.9 L533.7,75.6 L534.2,75.4 L534.7,75.9 L535.2,74.8 L535.7,74.8 L536.2,75.4 L536.7,74.1 L537.2,75.1 L537.7,74.7 L538.2,74.2 L538.7,73.8 L539.2,74.4 L539.7,73.8 L540.2,74.5 L540.8,73.5 L541.3,74.1 L541.9,74.3 L542.4,74.3 L542.9,74.1 L543.5,74.0 L544.0,74.6 L544.5,74.8 L545.1,75.3 L545.6,74.3 L546.1,74.6 L546.7,75.6 L547.2,75.6 L547.8,75.5 L548.3,75.4 L548.8,74.8 L549.4,76.0 L550.0,76.6 L550.5,76.7 L551.0,76.5 L551.6,76.3 L552.1,75.2 L552.7,76.1 L553.2,74.8 L553.8,75.0 L554.3,75.1 L554.8,74.4 L555.4,73.1 L555.9,73.3 L556.5,73.6 L557.1,75.1 L557.7,75.1 L558.2,74.8 L558.7,75.7 L559.2,75.6 L559.8,75.5 L560.3,76.3 L560.8,76.4 L561.3,76.1 L561.9,76.1 L562.4,76.3 L563.0,76.1 L563.5,76.4 L564.0,76.4 L564.6,77.1 L565.1,77.5 L565.7,77.9 L566.2,78.0 L566.8,78.4 L567.5,79.2 L568.1,79.9 L568.6,79.7 L569.1,79.8 L569.6,79.6 L570.1,79.5 L570.7,79.4 L571.2,78.7 L571.8,78.1 L572.4,78.0 L572.9,78.0 L573.4,77.6 L574.0,77.8 L574.5,77.6 L575.0,77.8 L575.5,77.4 L576.0,77.4 L576.6,77.5 L577.1,77.2 L577.7,77.4 L578.2,77.2 L578.8,77.6 L579.3,77.4 L579.8,77.8 L580.4,78.0 L580.9,78.7 L581.5,78.8 L582.0,79.2 L582.6,79.8 L583.2,79.9 L583.8,79.3 L584.4,79.2 L584.9,78.7 L585.5,78.2 L586.0,77.8 L586.5,78.2 L587.0,77.7 L587.6,77.6 L588.1,77.8 L588.6,77.7 L589.1,77.6 L589.7,78.0 L590.2,77.8 L590.8,77.7 L591.3,78.1 L591.9,77.6 L592.4,78.0 L592.9,78.7 L593.4,78.8 L593.9,79.5 L594.4,80.3 L595.0,82.7 L595.5,84.5 L596.0,85.5 L596.6,86.0 L597.1,87.0 L597.6,86.6 L598.1,87.1 L598.6,86.7 L599.3,84.8 L600.0,82.6 L600.5,82.4 L601.0,81.5 L601.6,81.4 L602.1,80.9 L602.6,80.4 L603.2,79.9 L603.8,79.6 L604.3,79.4 L604.9,78.9 L605.4,78.6 L605.9,78.6 L606.4,78.5 L607.0,79.0 L607.5,78.9 L608.0,79.1 L608.5,78.9 L609.1,79.2 L609.6,79.1 L610.1,79.1 L610.7,79.4 L611.3,79.6 L611.8,80.0 L612.4,80.0 L613.0,80.3 L613.5,79.9 L614.0,79.7 L614.6,79.7 L615.1,79.4 L615.6,79.9 L616.1,79.5 L616.7,79.5 L617.2,78.9 L617.7,79.1 L618.2,79.1 L618.7,79.4 L619.3,79.3 L619.8,79.2 L620.3,79.2 L620.8,79.0 L621.3,79.0 L621.8,79.1 L622.4,79.3 L622.9,79.3 L623.4,79.4 L623.9,79.7 L624.5,79.3 L625.0,79.5 L625.5,79.5 L626.0,79.5 L626.5,79.7 L627.1,79.7 L627.6,80.0 L628.2,81.2 L628.9,82.1 L629.5,83.7 L630.1,86.3 L630.8,88.4 L631.3,91.7 L631.9,95.1 L632.7,87.5 L633.3,86.8 L634.0,88.9 L634.6,85.7 L635.2,81.8 L635.9,81.5 L636.6,80.9 L637.2,81.2 L637.8,81.2 L638.3,81.8 L638.9,81.4 L639.5,81.8 L640.0,82.0 L640.5,81.8 L641.1,82.1 L641.6,82.2 L642.1,81.8 L642.6,81.9 L643.2,81.9 L643.7,82.1 L644.2,82.3 L644.8,82.1 L645.4,82.5 L646.0,83.0 L646.6,82.8 L647.1,82.7 L647.6,82.8" stroke="#3aae6e"/><path d="M341.2,104.1 L342.0,104.1 L342.5,104.0 L343.0,103.9 L343.5,104.2 L344.1,103.9 L344.6,104.2 L345.1,104.0 L345.6,103.6 L346.1,104.2 L346.6,103.5 L347.1,104.1 L347.7,103.6 L348.2,103.6 L348.7,104.1 L349.2,104.7 L349.7,103.7 L350.2,103.9 L350.8,104.4 L351.3,104.9 L351.8,104.4 L352.3,104.3 L352.8,104.2 L353.3,105.0 L353.9,103.7 L354.4,104.8 L354.9,104.0 L355.4,103.8 L355.9,103.8 L356.5,104.0 L357.0,104.7 L357.5,103.9 L358.0,104.4 L358.6,104.5 L359.1,104.1 L359.6,104.4 L360.1,103.7 L360.6,103.7 L361.2,103.9 L361.7,104.6 L362.2,104.3 L362.9,105.1 L363.5,106.2 L364.4,111.8 L364.9,110.3 L365.4,109.4 L365.9,108.0 L366.5,107.7 L367.2,107.3 L367.8,107.4 L368.4,107.6 L369.0,107.3 L369.6,106.8 L370.2,106.2 L370.9,106.5 L371.5,106.2 L372.0,107.3 L372.6,108.8 L373.1,109.3 L373.6,109.0 L374.1,107.7 L374.6,107.4 L375.3,108.4 L376.0,108.0 L376.6,106.7 L377.1,106.3 L377.7,105.6 L378.3,105.6 L378.9,104.4 L379.5,104.6 L380.0,104.6 L380.5,104.3 L381.1,104.7 L381.6,104.7 L382.1,104.6 L382.6,104.7 L383.1,104.4 L383.7,104.6 L384.2,104.5 L384.7,104.5 L385.2,104.4 L385.8,104.6 L386.3,104.7 L386.8,104.4 L387.3,104.5 L387.8,104.1 L388.4,104.5 L388.9,104.4 L389.4,104.3 L389.9,104.6 L390.4,104.5 L390.9,104.2 L391.4,104.3 L392.0,104.5 L392.5,104.1 L393.0,104.4 L393.5,104.2 L394.0,104.2 L394.5,104.2 L395.0,104.6 L395.5,104.3 L396.1,104.4 L396.6,104.5 L397.1,104.8 L397.6,104.3 L398.1,104.6 L398.6,104.6 L399.1,104.8 L399.6,104.8 L400.2,104.9 L400.7,104.5 L401.2,104.6 L401.7,104.7 L402.2,104.6 L402.7,105.0 L403.2,105.0 L403.8,104.6 L404.3,104.6 L404.8,104.6 L405.3,104.7 L405.8,104.8 L406.4,104.9 L406.9,104.7 L407.4,104.6 L407.9,104.9 L408.4,104.8 L408.9,105.0 L409.4,105.2 L410.0,105.1 L410.5,105.0 L411.0,105.1 L411.5,105.1 L412.0,104.8 L412.6,105.3 L413.1,105.2 L413.6,105.3 L414.1,105.1 L414.6,105.3 L415.2,105.1 L415.7,105.2 L416.2,105.0 L416.8,105.4 L417.3,105.1 L417.9,105.2 L418.4,105.3 L418.9,105.3 L419.5,105.5 L420.0,105.6 L420.5,105.4 L421.1,105.3 L421.6,105.5 L422.2,105.4 L422.7,105.6 L423.3,105.4 L423.8,106.0 L424.4,105.8 L424.9,105.8 L425.5,106.3 L426.2,107.1 L426.8,108.0 L427.3,109.2 L427.9,110.5 L428.4,111.8 L428.9,112.3 L429.4,113.5 L429.9,114.0 L430.5,113.9 L431.1,113.1 L431.7,112.7 L432.2,112.2 L432.8,111.4 L433.3,111.1 L433.8,111.1 L434.4,111.5 L434.9,111.6 L435.4,112.0 L436.0,112.5 L436.7,112.5 L437.3,113.0 L437.8,112.1 L438.3,112.0 L438.8,111.2 L439.3,110.3 L439.8,109.9 L440.3,109.5 L440.8,108.8 L441.3,108.8 L441.8,108.7 L442.3,108.2 L442.8,107.6 L443.4,107.7 L443.9,107.3 L444.4,107.3 L445.0,107.2 L445.6,107.5 L446.1,107.2 L446.6,107.3 L447.2,107.1 L447.7,107.0 L448.2,106.9 L448.7,107.2 L449.3,107.3 L449.8,107.2 L450.3,107.2 L450.8,107.1 L451.3,107.1 L451.8,106.7 L452.4,106.9 L452.9,106.8 L453.4,106.6 L453.9,106.5 L454.4,106.7 L454.9,106.6 L455.5,106.9 L456.0,107.0 L456.5,106.7 L457.0,106.7 L457.5,107.0 L458.0,107.0 L458.6,107.0 L459.1,106.6 L459.6,106.5 L460.1,106.5 L460.6,106.5 L461.1,106.5 L461.6,106.8 L462.2,106.9 L462.7,106.9 L463.2,106.7 L463.7,106.8 L464.2,106.9 L464.8,106.5 L465.3,106.8 L465.8,106.9 L466.3,106.9 L466.8,106.9 L467.3,106.7 L467.8,106.5 L468.4,106.9 L468.9,106.6 L469.4,106.7 L469.9,106.9 L470.4,107.0 L471.0,106.6 L471.5,106.6 L472.0,107.0 L472.5,106.8 L473.0,106.5 L473.6,106.5 L474.1,106.5 L474.6,106.9 L475.1,106.9 L475.7,106.5 L476.2,106.9 L476.7,107.0 L477.2,106.8 L477.7,106.6 L478.3,106.7 L478.8,106.5 L479.3,106.7 L479.8,106.5 L480.4,107.2 L480.9,107.0 L481.4,107.1 L481.9,107.4 L482.5,107.2 L483.0,107.5 L483.5,107.6 L484.1,107.3 L484.6,107.4 L485.1,107.5 L485.6,107.6 L486.2,107.9 L486.7,107.9 L487.2,107.8 L487.7,108.0 L488.2,107.9 L488.7,108.4 L489.2,108.2 L489.8,108.3 L490.3,108.5 L490.8,108.7 L491.3,108.5 L491.8,108.9 L492.3,108.7 L492.8,108.8 L493.4,108.1 L494.1,107.4 L494.7,106.7 L495.2,106.4 L495.8,106.6 L496.3,106.4 L496.8,106.2 L497.4,106.7 L497.9,106.3 L498.4,106.4 L498.9,106.5 L499.5,106.4 L500.0,106.3 L500.5,106.2 L501.0,106.4 L501.6,106.5 L502.1,106.8 L502.6,106.1 L503.1,106.6 L503.6,106.3 L504.1,106.4 L504.6,106.9 L505.2,106.7 L505.7,106.8 L506.2,106.8 L506.7,107.0 L507.2,107.1 L507.7,106.5 L508.2,106.6 L508.7,106.4 L509.2,106.4 L509.8,106.5 L510.3,106.2 L510.8,106.2 L511.3,106.0 L511.8,106.4 L512.3,105.9 L512.8,106.1 L513.3,106.2 L513.8,106.3 L514.4,105.6 L514.9,105.8 L515.4,106.2 L515.9,106.1 L516.4,105.3 L517.0,105.3 L517.5,105.6 L518.0,105.2 L518.5,105.6 L519.1,105.9 L519.8,106.2 L520.4,107.2 L520.9,107.4 L521.4,107.6 L522.0,107.7 L522.5,107.0 L523.0,107.6 L523.5,107.6 L524.1,107.2 L524.6,108.0 L525.1,108.1 L525.6,107.4 L526.2,108.2 L526.7,107.7 L527.2,107.8 L527.7,107.8 L528.3,108.4 L528.8,108.3 L529.3,107.6 L529.8,107.9 L530.4,108.1 L530.9,107.9 L531.4,107.8 L532.0,108.0 L532.5,108.5 L533.0,107.8 L533.5,108.4 L534.1,108.3 L534.6,108.4 L535.1,107.9 L535.7,108.1 L536.2,108.3 L536.8,108.1 L537.3,107.6 L537.9,108.5 L538.4,108.2 L539.0,108.3 L539.5,107.8 L540.1,108.1 L540.7,109.1 L541.2,108.8 L541.7,108.6 L542.2,109.3 L542.8,108.8 L543.3,108.6 L543.8,108.9 L544.3,109.3 L544.8,109.2 L545.4,108.6 L545.9,108.5 L546.4,109.2 L546.9,108.8 L547.4,108.9 L548.0,109.1 L548.5,108.5 L549.0,108.6 L549.5,109.2 L550.1,109.0 L550.6,108.7 L551.1,109.6 L551.7,109.4 L552.2,109.6 L552.7,108.9 L553.2,109.8 L553.8,109.0 L554.3,109.5 L554.8,109.9 L555.3,109.5 L555.9,109.4 L556.4,109.7 L556.9,110.1 L557.4,109.4 L557.9,109.3 L558.4,109.7 L559.0,109.5 L559.5,109.4 L560.0,109.8 L560.5,109.8 L561.0,110.0 L561.5,110.3 L562.0,110.5 L562.6,110.7 L563.1,111.2 L563.6,111.2 L564.1,111.5 L564.6,111.8 L565.1,111.8 L565.6,112.2 L566.2,112.3 L566.7,112.7 L567.2,112.8 L567.7,113.5 L568.2,113.6 L568.7,113.3 L569.2,112.7 L569.7,112.6 L570.2,112.5 L570.7,111.7 L571.2,111.8 L571.7,111.2 L572.2,110.9 L572.7,110.8 L573.2,110.9 L573.7,110.6 L574.2,110.6 L574.8,110.6 L575.3,110.7 L575.8,110.2 L576.3,110.2 L576.9,110.6 L577.4,110.8 L578.0,110.9 L578.6,111.0 L579.1,111.2 L579.7,111.5 L580.2,111.6 L580.8,112.0 L581.3,112.3 L581.9,113.0 L582.4,113.2 L583.0,112.7 L583.5,112.3 L584.1,111.9 L584.7,112.0 L585.2,111.7 L585.8,111.1 L586.3,111.2 L586.8,111.0 L587.3,110.9 L587.8,111.0 L588.3,111.1 L588.8,110.9 L589.3,111.1 L589.8,111.0 L590.3,111.4 L590.8,111.4 L591.3,111.1 L591.8,111.6 L592.4,111.9 L592.9,112.9 L593.5,113.0 L594.0,113.6 L594.5,114.9 L595.0,116.0 L595.5,117.6 L596.0,119.0 L596.5,120.0 L597.0,121.0 L597.5,121.1 L598.0,121.0 L598.5,121.3 L599.0,120.3 L599.6,119.0 L600.1,118.3 L600.7,117.3 L601.2,116.3 L601.8,115.5 L602.4,114.4 L602.9,113.5 L603.5,112.9 L604.1,112.5 L604.6,112.3 L605.2,112.3 L605.8,112.0 L606.3,111.9 L606.9,111.5 L607.4,111.7 L608.0,111.9 L608.5,112.1 L609.1,112.0 L609.6,112.2 L610.1,112.6 L610.7,113.5 L611.2,113.5 L611.8,114.3 L612.3,114.7 L612.9,114.5 L613.4,113.8 L614.0,114.0 L614.6,113.7 L615.1,113.3 L615.7,112.9 L616.2,113.0 L616.7,113.1 L617.3,112.7 L617.8,112.9 L618.3,112.9 L618.8,113.1 L619.4,113.1 L619.9,113.1 L620.4,113.0 L620.9,113.1 L621.5,113.0 L622.0,113.0 L622.5,112.9 L623.0,112.8 L623.6,112.7 L624.1,112.8 L624.6,112.9 L625.2,112.8 L625.7,113.3 L626.2,113.2 L626.8,113.2 L627.3,113.2 L627.8,114.1 L628.3,114.9 L628.8,115.5 L629.3,116.3 L630.0,119.4 L630.7,123.1 L631.4,128.0 L632.0,132.6 L632.5,128.7 L633.1,124.5 L634.0,123.8 L634.7,119.7 L635.4,115.6 L636.1,115.0 L636.8,114.3 L637.3,114.9 L637.9,115.1 L638.4,116.1 L639.0,116.3 L639.5,117.0 L640.0,116.9 L640.5,117.3 L641.1,117.7 L641.6,117.6 L642.1,118.1 L642.6,118.5 L643.2,118.4 L643.7,118.5 L644.2,118.8 L644.8,118.3 L645.4,117.9 L645.9,117.5 L646.5,116.8 L647.0,116.4 L647.6,115.8" stroke="#0a0aee"/><path d="M341.2,143.0 L341.6,143.0 L342.0,142.6 L342.3,143.1 L342.7,143.8 L343.0,143.0 L343.4,143.1 L343.7,143.3 L344.0,142.6 L344.4,143.3 L344.7,143.0 L345.0,143.6 L345.3,143.9 L345.7,142.7 L346.0,143.2 L346.3,142.9 L346.6,144.2 L346.9,144.1 L347.3,143.0 L347.6,144.7 L347.9,143.6 L348.2,148.0 L348.5,146.3 L348.8,146.3 L349.1,143.7 L349.4,143.0 L349.8,146.2 L350.1,143.6 L350.4,144.5 L350.7,145.0 L351.0,145.2 L351.3,144.0 L351.7,146.8 L352.0,146.8 L352.4,149.3 L352.7,147.5 L353.1,148.4 L353.4,146.2 L353.7,147.6 L354.0,148.5 L354.3,147.2 L354.6,146.0 L354.9,150.2 L355.2,150.1 L355.5,149.1 L355.8,145.5 L356.1,147.1 L356.4,145.2 L356.7,144.7 L357.0,144.7 L357.4,143.6 L357.7,146.3 L358.0,144.6 L358.3,146.3 L358.6,144.1 L358.9,143.5 L359.2,146.4 L359.5,146.1 L359.8,142.7 L360.1,143.7 L360.4,146.7 L360.7,145.0 L361.0,144.7 L361.3,144.5 L361.6,146.1 L361.9,147.6 L362.3,149.6 L362.6,151.3 L362.9,152.8 L363.2,151.4 L363.5,150.0 L363.8,148.9 L364.1,152.4 L364.4,146.4 L364.7,149.5 L365.0,144.9 L365.3,145.4 L365.6,144.1 L365.9,143.5 L366.2,147.9 L366.5,143.5 L366.8,143.5 L367.1,145.7 L367.5,145.1 L367.8,143.5 L368.2,147.0 L368.5,143.2 L368.9,146.6 L369.2,144.0 L369.5,143.5 L369.9,145.7 L370.2,144.5 L370.5,145.1 L370.8,149.9 L371.2,149.0 L371.5,145.5 L371.8,145.8 L372.1,147.6 L372.5,144.7 L372.8,145.3 L373.1,144.5 L373.4,146.9 L373.7,146.0 L374.1,143.8 L374.4,147.4 L374.7,144.3 L375.0,144.4 L375.3,146.5 L375.7,144.7 L376.0,144.5 L376.3,143.6 L376.6,143.6 L376.9,145.6 L377.3,144.2 L377.6,145.6 L377.9,144.2 L378.2,144.7 L378.5,145.0 L378.8,147.0 L379.1,145.1 L379.4,145.4 L379.7,146.6 L380.0,143.9 L380.3,143.8 L380.6,145.3 L380.9,145.1 L381.2,143.9 L381.5,143.8 L381.8,144.9 L382.1,145.3 L382.4,143.7 L382.7,145.3 L383.0,145.1 L383.3,144.5 L383.6,144.1 L383.9,143.4 L384.2,143.8 L384.5,143.3 L384.8,145.2 L385.1,143.7 L385.4,144.6 L385.7,143.7 L386.0,144.9 L386.3,144.4 L386.6,143.7 L386.9,143.5 L387.2,144.6 L387.5,143.2 L387.8,143.6 L388.1,144.3 L388.4,144.9 L388.7,144.3 L389.0,143.6 L389.3,145.0 L389.6,143.5 L389.9,143.1 L390.2,143.6 L390.5,143.6 L390.8,143.9 L391.1,143.1 L391.4,143.3 L391.7,143.6 L392.0,143.5 L392.3,143.2 L392.6,143.3 L392.9,143.6 L393.2,143.6 L393.5,143.4 L393.8,143.3 L394.1,143.3 L394.4,143.0 L394.7,142.9 L395.0,142.8 L395.3,143.3 L395.6,143.2 L395.9,143.3 L396.2,142.7 L396.5,143.0 L396.8,142.9 L397.1,142.9 L397.4,143.0 L397.7,142.7 L398.1,143.1 L398.4,142.5 L398.7,142.8 L399.0,142.9 L399.3,143.0 L399.6,142.9 L399.9,142.8 L400.2,143.0 L400.6,143.1 L400.9,142.5 L401.2,142.8 L401.5,142.6 L401.8,143.1 L402.1,143.1 L402.4,142.7 L402.7,143.1 L403.0,143.3 L403.3,143.0 L403.6,143.1 L403.9,143.0 L404.2,143.2 L404.5,143.2 L404.8,143.8 L405.1,143.8 L405.4,144.8 L405.7,145.7 L406.0,146.1 L406.3,146.2 L406.6,147.6 L406.9,148.4 L407.2,149.9 L407.6,150.9 L407.9,152.0 L408.2,153.2 L408.5,155.0 L408.9,155.6 L409.2,157.7 L409.6,158.4 L409.9,160.3 L410.2,161.3 L410.5,162.1 L410.9,162.7 L411.2,163.9 L411.6,164.4 L411.9,164.5 L412.2,165.0 L412.6,165.2 L412.9,166.0 L413.3,165.7 L413.6,166.3 L413.9,166.1 L414.2,166.7 L414.6,167.4 L414.9,167.2 L415.2,167.8 L415.5,167.6 L415.8,168.5 L416.1,168.5 L416.4,168.4 L416.7,169.0 L417.0,168.8 L417.3,168.6 L417.7,169.0 L418.0,168.5 L418.3,168.8 L418.7,169.2 L419.0,168.9 L419.3,169.0 L419.6,168.7 L419.9,167.9 L420.2,167.8 L420.6,167.3 L420.9,166.8 L421.2,166.9 L421.5,166.9 L421.8,166.6 L422.1,166.0 L422.4,165.9 L422.8,165.9 L423.1,165.0 L423.4,164.6 L423.7,164.6 L424.1,164.2 L424.4,163.8 L424.7,163.8 L425.0,163.7 L425.4,163.3 L425.7,162.9 L426.0,162.8 L426.3,162.7 L426.6,162.5 L426.9,161.6 L427.2,160.8 L427.5,160.3 L427.8,160.8 L428.2,159.5 L428.5,159.8 L428.8,159.3 L429.1,158.6 L429.4,158.7 L429.7,157.5 L430.0,157.6 L430.3,157.4 L430.6,157.8 L431.0,157.5 L431.3,158.5 L431.6,158.0 L431.9,158.0 L432.3,158.1 L432.6,158.8 L432.9,158.7 L433.2,159.1 L433.6,159.2 L433.9,159.2 L434.2,159.2 L434.5,159.0 L434.9,158.4 L435.2,157.6 L435.5,157.6 L435.8,157.0 L436.1,156.5 L436.5,156.6 L436.8,156.5 L437.1,156.0 L437.4,155.6 L437.7,155.7 L438.0,155.7 L438.3,156.0 L438.6,155.8 L439.0,155.9 L439.3,156.0 L439.6,155.6 L439.9,155.9 L440.2,155.6 L440.5,156.2 L440.8,155.6 L441.2,156.6 L441.5,156.6 L441.8,156.2 L442.1,156.8 L442.4,157.1 L442.8,157.6 L443.1,157.3 L443.4,157.6 L443.7,157.5 L444.0,157.7 L444.3,157.4 L444.6,157.4 L444.9,156.8 L445.2,156.8 L445.5,156.2 L445.8,156.6 L446.1,156.5 L446.4,156.2 L446.7,156.1 L447.0,155.5 L447.3,155.6 L447.6,155.9 L447.9,155.9 L448.3,155.9 L448.6,155.4 L448.9,155.5 L449.2,155.0 L449.5,155.5 L449.9,155.4 L450.2,154.8 L450.5,154.9 L450.8,154.7 L451.2,155.3 L451.5,155.6 L451.9,156.1 L452.2,156.0 L452.6,155.8 L452.9,156.5 L453.2,156.7 L453.5,155.8 L453.8,156.4 L454.1,155.7 L454.4,155.7 L454.8,156.0 L455.1,155.2 L455.4,155.1 L455.7,155.3 L456.0,155.2 L456.3,155.3 L456.6,155.3 L456.9,155.1 L457.3,155.2 L457.6,154.7 L457.9,155.0 L458.2,154.1 L458.5,154.1 L458.8,154.3 L459.1,154.0 L459.4,154.3 L459.8,154.1 L460.1,153.9 L460.4,154.1 L460.7,153.7 L461.0,153.7 L461.3,153.4 L461.6,153.4 L461.9,153.8 L462.2,153.9 L462.5,153.1 L462.8,153.7 L463.1,153.8 L463.4,153.3 L463.7,153.3 L464.0,152.9 L464.3,153.1 L464.6,153.1 L464.9,153.1 L465.2,152.5 L465.5,152.9 L465.8,153.4 L466.1,153.0 L466.5,152.9 L466.8,153.3 L467.1,153.1 L467.4,153.1 L467.8,153.3 L468.1,152.7 L468.4,153.2 L468.8,153.1 L469.1,153.7 L469.4,153.3 L469.7,153.9 L470.0,153.4 L470.4,153.8 L470.7,153.6 L471.0,154.0 L471.3,154.6 L471.6,154.8 L472.0,154.6 L472.3,154.6 L472.6,154.9 L472.9,154.5 L473.2,154.8 L473.6,155.0 L473.9,154.1 L474.2,154.7 L474.6,153.8 L474.9,153.9 L475.2,153.8 L475.5,154.2 L475.9,153.7 L476.2,153.7 L476.5,153.7 L476.8,153.9 L477.2,153.5 L477.5,154.2 L477.9,153.7 L478.2,154.2 L478.6,154.1 L478.9,154.4 L479.2,154.3 L479.6,154.8 L479.9,154.9 L480.2,155.0 L480.5,155.2 L480.9,155.5 L481.2,155.6 L481.5,155.2 L481.8,155.2 L482.1,155.5 L482.4,155.4 L482.7,155.3 L483.0,155.5 L483.3,155.2 L483.6,155.4 L483.9,154.7 L484.2,155.1 L484.5,155.1 L484.8,155.1 L485.1,154.4 L485.4,154.4 L485.7,154.9 L486.0,154.4 L486.3,154.0 L486.6,154.7 L486.9,154.5 L487.3,153.6 L487.6,153.6 L487.9,154.0 L488.2,153.5 L488.5,153.2 L488.8,153.8 L489.1,153.3 L489.4,153.6 L489.8,152.8 L490.1,153.0 L490.4,153.2 L490.7,152.9 L491.0,152.3 L491.3,152.4 L491.6,152.8 L491.9,153.0 L492.2,152.9 L492.5,152.0 L492.9,152.3 L493.2,152.5 L493.5,152.1 L493.8,152.2 L494.1,151.7 L494.4,151.5 L494.7,151.8 L495.0,151.3 L495.3,151.2 L495.6,151.6 L495.9,151.5 L496.2,151.5 L496.5,151.0 L496.9,150.9 L497.2,150.9 L497.5,151.4 L497.8,151.5 L498.1,151.4 L498.4,150.5 L498.7,150.8 L499.0,150.3 L499.4,151.1 L499.7,150.5 L500.0,150.7 L500.3,150.2 L500.7,150.3 L501.0,150.2 L501.3,150.5 L501.7,150.7 L502.0,151.1 L502.4,150.8 L502.7,151.8 L503.1,152.2 L503.4,152.1 L503.7,151.8 L504.0,152.2 L504.3,152.5 L504.6,152.3 L504.9,152.1 L505.2,152.1 L505.6,152.5 L505.9,152.1 L506.2,153.0 L506.5,153.0 L506.8,153.0 L507.1,153.2 L507.4,152.9 L507.7,152.9 L508.0,152.6 L508.3,152.8 L508.6,152.6 L508.9,153.0 L509.3,152.7 L509.6,152.1 L509.9,152.7 L510.2,152.4 L510.5,152.1 L510.8,152.1 L511.2,151.9 L511.5,151.2 L511.9,151.4 L512.2,151.1 L512.6,150.7 L512.9,150.2 L513.2,150.6 L513.5,150.7 L513.8,150.4 L514.1,150.9 L514.5,150.3 L514.8,150.7 L515.1,150.9 L515.4,150.6 L515.7,151.0 L516.0,151.3 L516.3,151.5 L516.6,151.6 L517.0,151.3 L517.3,152.1 L517.6,151.9 L517.9,151.6 L518.2,152.0 L518.6,152.0 L518.9,152.1 L519.2,152.1 L519.5,152.1 L519.9,152.9 L520.2,153.3 L520.5,153.6 L520.8,154.0 L521.2,154.8 L521.5,152.1 L521.8,154.0 L522.1,154.5 L522.5,153.3 L522.8,153.8 L523.1,154.0 L523.4,153.1 L523.7,153.7 L524.0,154.4 L524.3,153.7 L524.6,154.3 L524.9,156.4 L525.3,155.5 L525.6,155.6 L525.9,157.1 L526.2,156.0 L526.5,157.5 L526.8,156.6 L527.1,156.0 L527.4,157.3 L527.8,155.2 L528.1,156.9 L528.4,157.4 L528.7,155.4 L529.0,158.1 L529.4,155.9 L529.7,156.9 L530.0,156.1 L530.4,157.2 L530.7,157.6 L531.0,157.1 L531.3,156.2 L531.6,158.9 L531.9,157.5 L532.2,157.9 L532.5,158.2 L532.8,157.6 L533.2,157.5 L533.5,158.7 L533.8,158.5 L534.1,157.8 L534.4,159.1 L534.7,158.0 L535.0,158.4 L535.3,157.1 L535.7,158.2 L536.0,157.4 L536.3,158.1 L536.6,160.9 L537.0,159.3 L537.3,159.2 L537.6,161.9 L537.9,161.4 L538.3,158.4 L538.6,162.8 L538.9,162.8 L539.2,159.0 L539.5,162.9 L539.9,160.9 L540.2,161.3 L540.5,160.8 L540.8,163.9 L541.2,160.8 L541.5,162.3 L541.8,164.4 L542.1,163.6 L542.5,162.7 L542.8,162.3 L543.1,165.1 L543.4,164.2 L543.8,163.1 L544.1,160.7 L544.4,162.9 L544.7,162.0 L545.0,160.7 L545.4,159.8 L545.7,161.8 L546.0,160.8 L546.3,160.0 L546.6,161.6 L546.9,162.7 L547.2,161.9 L547.6,161.2 L547.9,162.8 L548.2,162.2 L548.5,164.0 L548.8,162.1 L549.1,163.9 L549.4,166.9 L549.8,167.6 L550.1,165.8 L550.4,166.6 L550.8,169.7 L551.1,173.0 L551.5,176.5 L551.9,179.7 L552.2,182.5 L552.6,185.3 L553.0,184.6 L553.3,183.7 L553.7,183.1 L554.1,181.6 L554.4,180.6 L554.8,179.2 L555.1,177.9 L555.5,176.5 L555.8,175.8 L556.1,175.1 L556.4,174.0 L556.8,173.2 L557.1,172.9 L557.4,172.0 L557.7,171.0 L558.0,170.8 L558.4,169.8 L558.7,169.4 L559.1,169.1 L559.4,168.8 L559.8,171.5 L560.3,174.3 L560.6,184.3 L561.0,194.2 L561.3,205.0 L561.6,216.2 L562.0,211.8 L562.5,207.4 L562.9,204.3 L563.2,201.4 L563.6,198.9 L563.9,195.9 L564.3,193.0 L564.6,192.1 L564.9,191.0 L565.2,190.2 L565.6,189.1 L565.9,188.2 L566.2,187.5 L566.5,186.4 L566.8,186.1 L567.1,185.2 L567.4,184.8 L567.8,184.7 L568.1,184.1 L568.4,183.7 L568.7,183.1 L569.0,182.3 L569.4,181.7 L569.7,181.0 L570.0,180.6 L570.4,179.7 L570.7,179.2 L571.0,178.8 L571.3,177.7 L571.7,177.2 L572.0,176.5 L572.3,176.2 L572.7,175.9 L573.0,175.1 L573.3,174.7 L573.6,174.1 L574.0,174.1 L574.3,173.2 L574.6,172.7 L575.0,172.6 L575.3,172.1 L575.6,171.9 L575.9,171.8 L576.3,171.4 L576.6,171.5 L576.9,170.9 L577.2,170.8 L577.6,170.9 L577.9,170.3 L578.2,170.4 L578.5,170.6 L578.8,171.2 L579.1,171.4 L579.4,171.5 L579.8,171.7 L580.1,172.2 L580.4,172.7 L580.7,172.8 L581.0,173.0 L581.3,173.5 L581.6,172.8 L581.9,171.9 L582.3,171.3 L582.6,170.5 L582.9,169.4 L583.2,169.5 L583.5,169.1 L583.8,169.1 L584.2,168.7 L584.5,168.6 L584.8,168.5 L585.1,168.6 L585.4,168.5 L585.7,167.9 L586.0,167.9 L586.3,167.7 L586.7,167.6 L587.0,167.4 L587.3,167.3 L587.6,167.2 L587.9,166.9 L588.3,167.0 L588.6,167.0 L589.0,166.8 L589.3,166.8 L589.7,166.6 L590.0,166.4 L590.3,166.1 L590.6,166.4 L591.0,166.3 L591.3,165.9 L591.6,165.6 L591.9,165.8 L592.2,165.7 L592.5,165.6 L592.8,165.8 L593.2,165.5 L593.5,165.5 L593.8,165.2 L594.1,164.6 L594.4,164.6 L594.8,164.4 L595.1,163.7 L595.4,163.4 L595.7,163.4 L596.0,163.2 L596.3,162.4 L596.6,162.4 L597.0,161.8 L597.3,161.9 L597.6,161.4 L597.9,161.6 L598.2,161.4 L598.5,161.5 L598.9,162.0 L599.2,161.9 L599.5,162.2 L599.8,162.0 L600.1,162.1 L600.5,162.6 L600.8,162.5 L601.1,162.5 L601.4,162.6 L601.7,162.7 L602.0,162.9 L602.3,162.9 L602.6,163.1 L603.0,162.9 L603.3,163.2 L603.6,163.1 L603.9,163.1 L604.2,165.1 L604.5,166.8 L604.9,168.6 L605.2,170.2 L605.5,173.6 L605.9,176.5 L606.2,173.8 L606.6,170.7 L606.9,167.7 L607.2,168.0 L607.5,168.4 L607.9,168.8 L608.2,168.9 L608.5,171.8 L608.9,174.8 L609.2,177.8 L609.5,185.2 L609.9,193.1 L610.2,200.5 L610.5,208.4 L610.9,215.6 L611.2,223.2 L611.5,217.1 L611.9,211.3 L612.2,205.6 L612.5,201.1 L612.9,196.6 L613.2,192.6 L613.5,187.9 L613.9,185.9 L614.2,184.2 L614.6,182.3 L614.9,180.9 L615.3,179.0 L615.6,178.5 L615.9,177.6 L616.2,176.9 L616.5,176.5 L616.8,175.9 L617.1,175.5 L617.5,174.3 L617.8,173.8 L618.1,173.2 L618.4,172.6 L618.7,172.0 L619.0,171.5 L619.3,171.2 L619.6,170.7 L620.0,170.1 L620.3,169.6 L620.6,169.2 L620.9,168.8 L621.2,168.7 L621.5,168.0 L621.8,167.7 L622.2,167.4 L622.5,166.8 L622.8,166.4 L623.1,165.9 L623.4,165.9 L623.8,165.6 L624.1,164.9 L624.4,164.6 L624.7,164.5 L625.0,163.9 L625.3,163.4 L625.6,162.9 L626.0,163.1 L626.3,162.6 L626.6,162.1 L626.9,161.6 L627.3,161.2 L627.6,160.8 L627.9,160.2 L628.2,160.1 L628.6,159.5 L628.9,158.8 L629.2,158.2 L629.6,158.0 L629.9,157.6 L630.2,156.9 L630.5,156.5 L630.8,155.8 L631.2,155.1 L631.5,154.1 L631.8,153.7 L632.1,153.4 L632.4,153.4 L632.7,153.2 L633.1,153.5 L633.4,153.2 L633.7,153.1 L634.0,153.2 L634.3,152.7 L634.6,152.8 L634.9,152.4 L635.2,152.7 L635.6,152.1 L635.9,152.5 L636.2,152.4 L636.5,152.1 L636.8,152.1 L637.1,151.5 L637.4,151.5 L637.8,151.6 L638.1,151.0 L638.4,151.1 L638.7,150.9 L639.0,151.0 L639.3,150.7 L639.6,150.6 L639.9,150.1 L640.3,150.3 L640.6,149.9 L640.9,150.0 L641.2,149.6 L641.5,149.2 L641.8,149.4 L642.2,148.9 L642.5,148.9 L642.8,148.7 L643.1,148.3 L643.4,148.5 L643.7,148.0 L644.0,147.8 L644.4,147.5 L644.7,147.5 L645.0,147.4 L645.3,146.7 L645.6,146.2 L645.9,145.4 L646.2,145.0 L646.5,144.2 L646.9,143.4 L647.2,143.0 L647.6,142.5" stroke="#ee3a3a"/><path d="M341.2,231.7 L342.0,231.7 L342.5,231.6 L343.0,231.8 L343.5,231.9 L344.1,232.0 L344.6,231.6 L345.1,231.6 L345.6,231.6 L346.1,231.6 L346.6,232.0 L347.1,231.6 L347.7,231.9 L348.2,231.7 L348.7,231.8 L349.2,231.9 L349.7,232.2 L350.2,232.0 L350.8,231.6 L351.3,231.8 L351.8,231.7 L352.3,232.0 L352.8,232.2 L353.3,232.2 L353.9,232.1 L354.4,232.1 L354.9,232.0 L355.4,232.1 L355.9,232.0 L356.5,231.6 L357.0,232.0 L357.5,231.7 L358.0,231.8 L358.6,231.7 L359.1,231.5 L359.6,231.5 L360.1,231.5 L360.6,231.4 L361.2,231.2 L361.7,231.7 L362.2,231.4 L362.9,232.7 L363.5,233.6 L364.0,236.2 L364.5,238.2 L365.2,236.5 L365.9,234.5 L366.6,235.0 L367.3,235.4 L367.9,235.0 L368.6,233.9 L369.2,233.6 L369.8,233.8 L370.4,233.8 L370.9,233.7 L371.5,234.0 L372.0,234.7 L372.6,235.9 L373.1,236.8 L373.8,235.2 L374.4,234.0 L375.0,234.4 L375.6,234.9 L376.2,234.0 L376.9,232.8 L377.5,231.9 L378.0,231.6 L378.5,231.8 L379.0,231.6 L379.5,231.6 L380.0,231.6 L380.5,231.7 L381.0,231.5 L381.5,231.8 L382.0,231.7 L382.5,232.0 L383.1,231.6 L383.6,231.8 L384.1,232.0 L384.6,231.4 L385.2,231.5 L385.7,231.9 L386.2,231.9 L386.8,231.8 L387.3,231.5 L387.8,231.6 L388.3,231.9 L388.9,231.9 L389.4,231.7 L389.9,231.9 L390.4,231.6 L390.9,232.0 L391.4,231.7 L392.0,232.0 L392.5,231.6 L393.0,232.2 L393.5,232.0 L394.0,232.1 L394.5,231.8 L395.0,232.0 L395.5,232.0 L396.1,232.1 L396.6,232.0 L397.1,232.2 L397.6,232.0 L398.1,232.0 L398.6,231.9 L399.1,232.3 L399.6,232.0 L400.2,232.1 L400.7,232.0 L401.2,232.4 L401.7,232.3 L402.2,232.3 L402.7,232.3 L403.2,232.0 L403.8,232.3 L404.3,232.2 L404.8,232.1 L405.3,232.0 L405.8,232.6 L406.4,232.1 L406.9,232.2 L407.4,232.2 L407.9,232.4 L408.4,232.0 L408.9,232.3 L409.4,232.2 L410.0,232.5 L410.5,232.0 L411.0,232.2 L411.5,232.3 L412.0,232.6 L412.6,232.3 L413.1,232.3 L413.6,232.4 L414.1,232.3 L414.6,232.2 L415.2,232.0 L415.7,232.2 L416.2,232.5 L416.8,232.4 L417.3,232.0 L417.9,232.3 L418.4,232.4 L418.9,232.0 L419.5,232.2 L420.0,232.1 L420.5,232.0 L421.1,232.0 L421.6,232.0 L422.1,232.0 L422.7,232.1 L423.2,232.0 L423.8,232.2 L424.3,232.3 L424.8,232.5 L425.3,233.4 L425.8,233.7 L426.3,233.8 L426.8,234.6 L427.3,235.4 L427.8,235.7 L428.3,236.6 L428.8,237.3 L429.3,237.9 L429.9,237.3 L430.5,236.8 L431.1,236.4 L431.7,236.0 L432.3,235.6 L433.0,235.8 L433.6,235.4 L434.2,235.5 L434.8,236.2 L435.4,236.2 L436.0,236.7 L436.6,236.4 L437.3,236.4 L437.9,236.3 L438.4,235.6 L438.9,235.2 L439.4,234.9 L440.0,234.5 L440.5,234.3 L441.0,233.6 L441.5,233.8 L442.1,233.1 L442.6,233.2 L443.1,232.9 L443.6,233.1 L444.2,232.7 L444.7,232.7 L445.2,232.9 L445.7,232.7 L446.2,232.4 L446.8,232.3 L447.3,232.5 L447.8,232.8 L448.3,232.4 L448.8,232.6 L449.3,232.5 L449.8,232.4 L450.3,232.7 L450.9,232.3 L451.4,232.6 L451.9,232.6 L452.4,232.7 L452.9,232.4 L453.4,232.7 L453.9,232.4 L454.4,232.4 L454.9,232.4 L455.5,232.6 L456.0,232.6 L456.5,232.1 L457.0,232.3 L457.5,232.1 L458.0,232.4 L458.6,232.5 L459.1,232.4 L459.6,232.3 L460.1,232.7 L460.6,232.3 L461.1,232.2 L461.6,232.2 L462.2,232.2 L462.7,232.6 L463.2,232.3 L463.7,232.6 L464.2,232.8 L464.8,232.8 L465.3,232.8 L465.8,232.5 L466.3,232.7 L466.8,232.8 L467.3,232.8 L467.8,232.5 L468.4,232.8 L468.9,232.4 L469.4,232.7 L469.9,232.6 L470.4,233.0 L471.0,232.7 L471.5,232.6 L472.0,232.9 L472.5,232.7 L473.0,232.4 L473.6,232.4 L474.1,232.6 L474.6,232.6 L475.1,233.0 L475.7,232.5 L476.2,232.9 L476.7,232.9 L477.2,232.6 L477.7,233.0 L478.3,232.9 L478.8,232.7 L479.3,232.7 L479.8,232.6 L480.4,232.8 L480.9,233.1 L481.4,233.0 L481.9,232.8 L482.5,233.0 L483.0,233.1 L483.5,233.0 L484.1,233.3 L484.6,233.1 L485.1,233.6 L485.6,233.3 L486.2,233.3 L486.7,233.6 L487.2,233.7 L487.7,233.7 L488.2,234.1 L488.7,233.9 L489.2,234.0 L489.8,234.3 L490.3,234.0 L490.8,234.4 L491.3,234.4 L491.8,234.4 L492.3,234.8 L492.8,234.6 L493.4,233.8 L494.1,233.8 L494.7,233.0 L495.2,232.7 L495.8,233.1 L496.3,232.6 L496.8,232.5 L497.4,232.7 L497.9,232.8 L498.4,232.4 L498.9,232.4 L499.5,232.4 L500.0,232.3 L500.5,232.2 L501.1,232.6 L501.6,232.1 L502.2,232.7 L502.7,233.1 L503.3,232.8 L503.8,232.8 L504.4,232.7 L504.9,233.3 L505.4,233.4 L506.0,233.1 L506.5,233.5 L507.0,233.3 L507.5,232.5 L508.1,233.3 L508.6,233.2 L509.1,233.0 L509.7,233.0 L510.2,232.8 L510.7,232.7 L511.2,232.6 L511.8,232.5 L512.3,232.3 L512.8,232.1 L513.3,232.1 L513.8,232.8 L514.3,232.7 L514.8,232.3 L515.3,233.0 L515.8,233.0 L516.3,233.0 L516.8,233.4 L517.3,233.5 L517.8,233.1 L518.3,233.7 L518.8,233.4 L519.3,233.6 L519.8,233.6 L520.3,233.5 L520.8,234.0 L521.3,233.5 L521.8,234.1 L522.3,233.4 L522.8,233.8 L523.3,234.0 L523.8,233.8 L524.3,233.5 L524.8,233.2 L525.3,233.6 L525.9,233.5 L526.4,233.9 L526.9,233.9 L527.4,234.1 L527.9,233.5 L528.4,233.5 L528.9,233.7 L529.4,233.8 L529.9,233.2 L530.4,233.3 L530.9,233.6 L531.4,233.2 L532.0,233.4 L532.5,233.3 L533.0,234.0 L533.5,233.2 L534.1,233.9 L534.6,233.2 L535.1,233.1 L535.7,233.9 L536.2,233.0 L536.7,233.0 L537.2,233.0 L537.8,232.9 L538.3,233.3 L538.9,232.6 L539.5,232.1 L540.1,233.5 L540.7,235.4 L541.2,234.9 L541.8,234.7 L542.3,235.3 L542.8,234.5 L543.3,234.6 L543.9,234.8 L544.4,234.6 L544.9,235.0 L545.4,234.7 L545.9,234.7 L546.4,234.7 L546.9,234.8 L547.4,234.8 L547.9,234.1 L548.4,233.9 L548.9,234.5 L549.4,234.4 L549.9,234.3 L550.4,234.6 L550.9,233.9 L551.4,234.4 L551.9,234.2 L552.4,234.2 L553.0,234.2 L553.5,234.1 L554.0,234.2 L554.5,234.5 L555.1,234.5 L555.6,234.9 L556.1,234.3 L556.7,234.8 L557.2,234.2 L557.7,234.8 L558.2,234.4 L558.8,235.1 L559.3,234.8 L559.8,235.3 L560.4,234.8 L560.9,235.2 L561.5,234.9 L562.0,235.0 L562.6,235.0 L563.1,235.2 L563.7,235.1 L564.2,235.4 L564.7,235.8 L565.3,235.9 L565.8,236.0 L566.3,236.4 L566.8,236.4 L567.4,236.7 L567.9,237.0 L568.4,236.7 L569.0,236.2 L569.5,236.5 L570.0,235.8 L570.5,235.6 L571.1,235.8 L571.6,235.4 L572.1,235.5 L572.7,235.2 L573.2,235.1 L573.8,234.8 L574.3,234.9 L574.8,234.5 L575.3,234.8 L575.8,234.6 L576.3,234.4 L576.8,234.8 L577.4,234.2 L577.9,234.4 L578.4,234.5 L578.9,234.5 L579.4,234.0 L579.9,234.2 L580.4,234.7 L580.9,234.9 L581.4,235.3 L582.0,235.8 L582.5,236.1 L583.0,236.3 L583.5,236.6 L584.0,236.6 L584.5,236.3 L585.0,236.2 L585.5,236.2 L586.0,236.0 L586.5,235.7 L587.0,235.6 L587.5,235.3 L588.0,235.8 L588.6,235.6 L589.1,235.7 L589.6,235.7 L590.1,235.9 L590.6,235.8 L591.1,236.1 L591.7,236.0 L592.2,236.0 L592.7,236.0 L593.3,236.8 L593.9,237.2 L594.4,237.9 L595.0,238.6 L595.6,239.1 L596.1,240.1 L596.7,241.0 L597.2,242.0 L597.7,242.7 L598.2,242.7 L598.8,242.7 L599.3,242.5 L599.8,242.7 L600.4,241.7 L601.0,240.9 L601.5,240.1 L602.1,239.5 L602.7,238.4 L603.2,237.8 L603.7,237.6 L604.2,237.5 L604.7,237.0 L605.2,236.9 L605.7,236.1 L606.2,236.0 L606.7,236.2 L607.3,236.0 L607.8,236.2 L608.4,235.9 L608.9,236.1 L609.4,236.4 L610.0,236.4 L610.5,236.3 L611.0,236.4 L611.5,236.5 L612.0,236.3 L612.5,236.8 L613.0,236.8 L613.5,237.0 L614.0,237.0 L614.5,237.0 L615.1,236.8 L615.6,237.0 L616.1,236.4 L616.7,236.8 L617.2,236.2 L617.8,236.7 L618.3,236.3 L618.8,236.4 L619.3,236.3 L619.9,236.6 L620.4,236.3 L620.9,236.3 L621.4,236.0 L621.9,236.5 L622.4,236.4 L623.0,236.1 L623.5,236.1 L624.0,236.3 L624.5,236.4 L625.0,236.8 L625.5,236.8 L626.0,236.7 L626.5,236.5 L627.0,237.1 L627.5,237.0 L628.0,237.9 L628.6,239.3 L629.2,240.2 L629.7,241.3 L630.4,244.8 L631.1,247.7 L631.8,252.6 L632.3,249.6 L632.8,247.0 L633.3,245.4 L633.9,243.4 L634.5,242.5 L635.0,241.0 L635.6,240.3 L636.2,241.4 L636.9,242.2 L637.5,243.4 L638.1,244.7 L638.7,246.1 L639.3,247.0 L639.9,246.8 L640.5,246.5 L641.1,246.3 L641.7,246.0 L642.3,245.5 L642.9,245.2 L643.4,244.6 L644.0,244.6 L644.6,244.1 L645.3,243.3 L646.0,243.1 L646.5,242.9 L647.1,242.6 L647.6,242.6" stroke="#4a4a4a"/></g><text x="67.6" y="285.9" font-size="14.5" fill="#000" font-weight="bold" text-anchor="middle" >100</text><text x="144" y="285.9" font-size="14.5" fill="#000" font-weight="bold" text-anchor="middle" >200</text><text x="220.6" y="285.9" font-size="14.5" fill="#000" font-weight="bold" text-anchor="middle" >300</text><text x="297.2" y="285.9" font-size="14.5" fill="#000" font-weight="bold" text-anchor="middle" >400</text><text x="340.7" y="285.8" font-size="14.5" fill="#000" font-weight="bold" text-anchor="middle" >4000</text><text x="428.3" y="285.8" font-size="14.5" fill="#000" font-weight="bold" text-anchor="middle" >3000</text><text x="516" y="285.8" font-size="14.5" fill="#000" font-weight="bold" text-anchor="middle" >2000</text><text x="603.3" y="285.8" font-size="14.5" fill="#000" font-weight="bold" text-anchor="middle" >1000</text><text x="91" y="312.6" font-size="18" fill="#000" font-weight="bold" text-anchor="start" >Raman Shift (cm<tspan font-size="11" dy="-8">-1</tspan><tspan dy="8">)</tspan></text><text x="417.7" y="313.2" font-size="18" fill="#000" font-weight="bold" text-anchor="start" >Wavenumber (cm<tspan font-size="11" dy="-8">-1</tspan><tspan dy="8">)</tspan></text><text transform="translate(12.3,133.5) rotate(-90)" font-size="18" font-weight="bold" text-anchor="middle">Intensity (a.u)</text><text transform="translate(326.3,136.3) rotate(-90)" font-size="18" font-weight="bold" text-anchor="middle">Transmittance (a.u)</text><text x="51.6" y="19.4" font-size="20.6" fill="#000" font-weight="bold" text-anchor="start" >(a)</text><text x="352.4" y="21.0" font-size="20.6" fill="#000" font-weight="bold" text-anchor="start" >(b)</text><text x="244.8" y="19.1" font-size="15" fill="#920c14" font-weight="bold" text-anchor="start" ><tspan font-style="italic">x</tspan> = 0.7</text><text x="243.0" y="71.7" font-size="15" fill="#138a13" font-weight="bold" text-anchor="start" ><tspan font-style="italic">x</tspan> = 0.5</text><text x="244" y="124.7" font-size="15" fill="#0a0aee" font-weight="bold" text-anchor="start" ><tspan font-style="italic">x</tspan> = 0.3</text><text x="235.2" y="179.5" font-size="14.8" fill="#ff1010" font-weight="bold" text-anchor="start" >MAPbI<tspan font-size="10.4" dy="4">3</tspan></text><text x="222.6" y="233.3" font-size="15" fill="#000" font-weight="normal" text-anchor="start" >δ</text><rect x="234" y="228.7" width="6.8" height="1.4" fill="#000"/><text x="246.2" y="233.3" font-size="15" fill="#000" font-weight="bold" text-anchor="start" >FAPbI<tspan font-size="10.5" dy="4">3</tspan></text><text x="352.2" y="38.7" font-size="15" fill="#920c14" font-weight="bold" text-anchor="start" ><tspan font-style="italic">x</tspan> = 0.7</text><text x="352.2" y="66.8" font-size="15" fill="#138a13" font-weight="bold" text-anchor="start" ><tspan font-style="italic">x</tspan> = 0.5</text><text x="352.2" y="97.8" font-size="15" fill="#0a0aee" font-weight="bold" text-anchor="start" ><tspan font-style="italic">x</tspan> = 0.3</text><text x="353.9" y="131.5" font-size="14.8" fill="#ff1010" font-weight="bold" text-anchor="start" >MAPbI<tspan font-size="10.4" dy="4">3</tspan></text><text x="351.7" y="219.7" font-size="15" fill="#111" font-weight="normal" text-anchor="start" >δ</text><rect x="362.2" y="215.2" width="6.6" height="1.4" fill="#111"/><text x="374.7" y="219.7" font-size="15" fill="#111" font-weight="bold" text-anchor="start" >FAPbI<tspan font-size="10.5" dy="4">3</tspan></text><text x="42" y="172.3" font-size="11" fill="#000" font-weight="bold" text-anchor="start" >94.6</text><text x="38.5" y="185.5" font-size="11" fill="#000" font-weight="bold" text-anchor="start" >71.4</text><text x="82.1" y="175.1" font-size="11" fill="#000" font-weight="bold" text-anchor="start" >109</text></g></svg>
</body></html>
